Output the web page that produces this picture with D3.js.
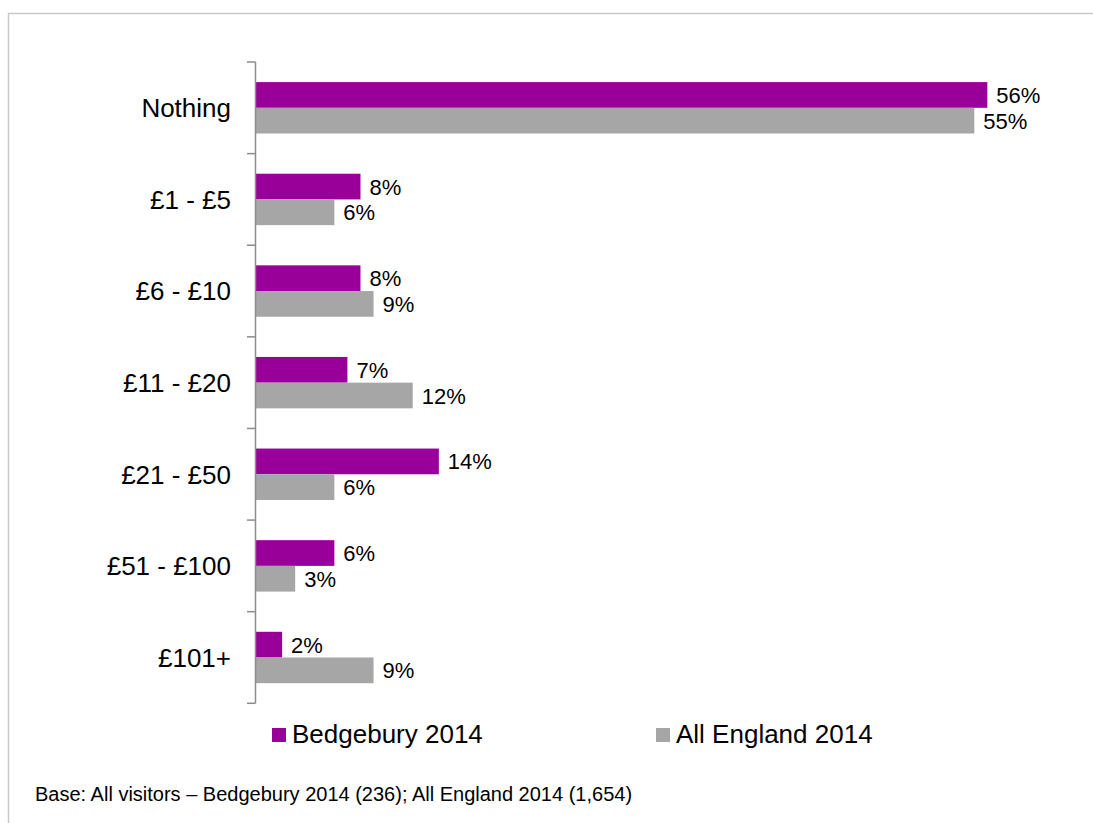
<!DOCTYPE html>
<html>
<head>
<meta charset="utf-8">
<script src="https://cdn.jsdelivr.net/npm/d3@7"></script>
<style>
  html, body { margin: 0; padding: 0; background: #fff; }
  svg { display: block; font-family: "Liberation Sans", Arial, sans-serif; }
</style>
</head>
<body>
<svg id="chart" width="1093" height="823"></svg>
<script>
// Amount spent on the visit, share of visitors (%)
const categories = ["Nothing", "£1 - £5", "£6 - £10", "£11 - £20", "£21 - £50", "£51 - £100", "£101+"];
const seriesNames = ["Bedgebury 2014", "All England 2014"];
const bedgebury = [56, 8, 8, 7, 14, 6, 2];
const allEngland = [55, 6, 9, 12, 6, 3, 9];
const seriesColors = ["#990099", "#A6A6A6"];
const footnote = "Base: All visitors – Bedgebury 2014 (236); All England 2014 (1,654)";

const svg = d3.select("#chart");

// outer frame
svg.append("rect")
  .attr("x", 8.5).attr("y", 13.5)
  .attr("width", 1200).attr("height", 1000)
  .attr("fill", "none").attr("stroke", "#c9c9c9").attr("stroke-width", 1.5);

const x = d3.scaleLinear().domain([0, 60]).range([256, 1039.6]);
const y = d3.scaleBand().domain(categories).range([62, 703.3]).padding(0);
const yInner = d3.scaleBand().domain(seriesNames).range([0, y.bandwidth()])
  .paddingInner(0).paddingOuter(0.782);

const values = [bedgebury, allEngland];
const rows = [];
categories.forEach((c, i) => {
  seriesNames.forEach((s, j) => rows.push({ cat: c, series: s, value: values[j][i], color: seriesColors[j] }));
});

// bars
svg.append("g").selectAll("rect")
  .data(rows).join("rect")
  .attr("x", x(0))
  .attr("y", d => y(d.cat) + yInner(d.series))
  .attr("width", d => x(d.value) - x(0))
  .attr("height", yInner.bandwidth())
  .attr("fill", d => d.color);

// value labels
svg.append("g").selectAll("text")
  .data(rows).join("text")
  .attr("x", d => x(d.value) + 9)
  .attr("y", d => y(d.cat) + yInner(d.series) + yInner.bandwidth() / 2 + 8)
  .attr("font-size", 22)
  .attr("fill", "#000")
  .text(d => d.value + "%");

// category axis with ticks between the groups
const axisG = svg.append("g");
axisG.append("line")
  .attr("x1", 255.5).attr("x2", 255.5)
  .attr("y1", y.range()[0]).attr("y2", y.range()[1])
  .attr("stroke", "#8c8c8c").attr("stroke-width", 1.5);
const boundaries = categories.map(c => y(c)).concat([y.range()[1]]);
axisG.selectAll("line.tick")
  .data(boundaries).join("line")
  .attr("class", "tick")
  .attr("x1", 247).attr("x2", 255.5)
  .attr("y1", d => d).attr("y2", d => d)
  .attr("stroke", "#8c8c8c").attr("stroke-width", 1.5);
axisG.selectAll("text")
  .data(categories).join("text")
  .attr("x", 231)
  .attr("y", d => y(d) + y.bandwidth() / 2 + 9.4)
  .attr("text-anchor", "end")
  .attr("font-size", 26)
  .attr("fill", "#000")
  .text(d => d);

// legend
const legendX = [272, 656];
const legend = svg.append("g").selectAll("g")
  .data(seriesNames).join("g")
  .attr("transform", (d, i) => `translate(${legendX[i]},728)`);
legend.append("rect")
  .attr("width", 14).attr("height", 14)
  .attr("fill", (d, i) => seriesColors[i]);
legend.append("text")
  .attr("x", 20).attr("y", 15)
  .attr("font-size", 26)
  .attr("fill", "#000")
  .text(d => d);

// base note
svg.append("text")
  .attr("x", 35).attr("y", 801)
  .attr("font-size", 20)
  .attr("fill", "#000")
  .text(footnote);
</script>
</body>
</html>
